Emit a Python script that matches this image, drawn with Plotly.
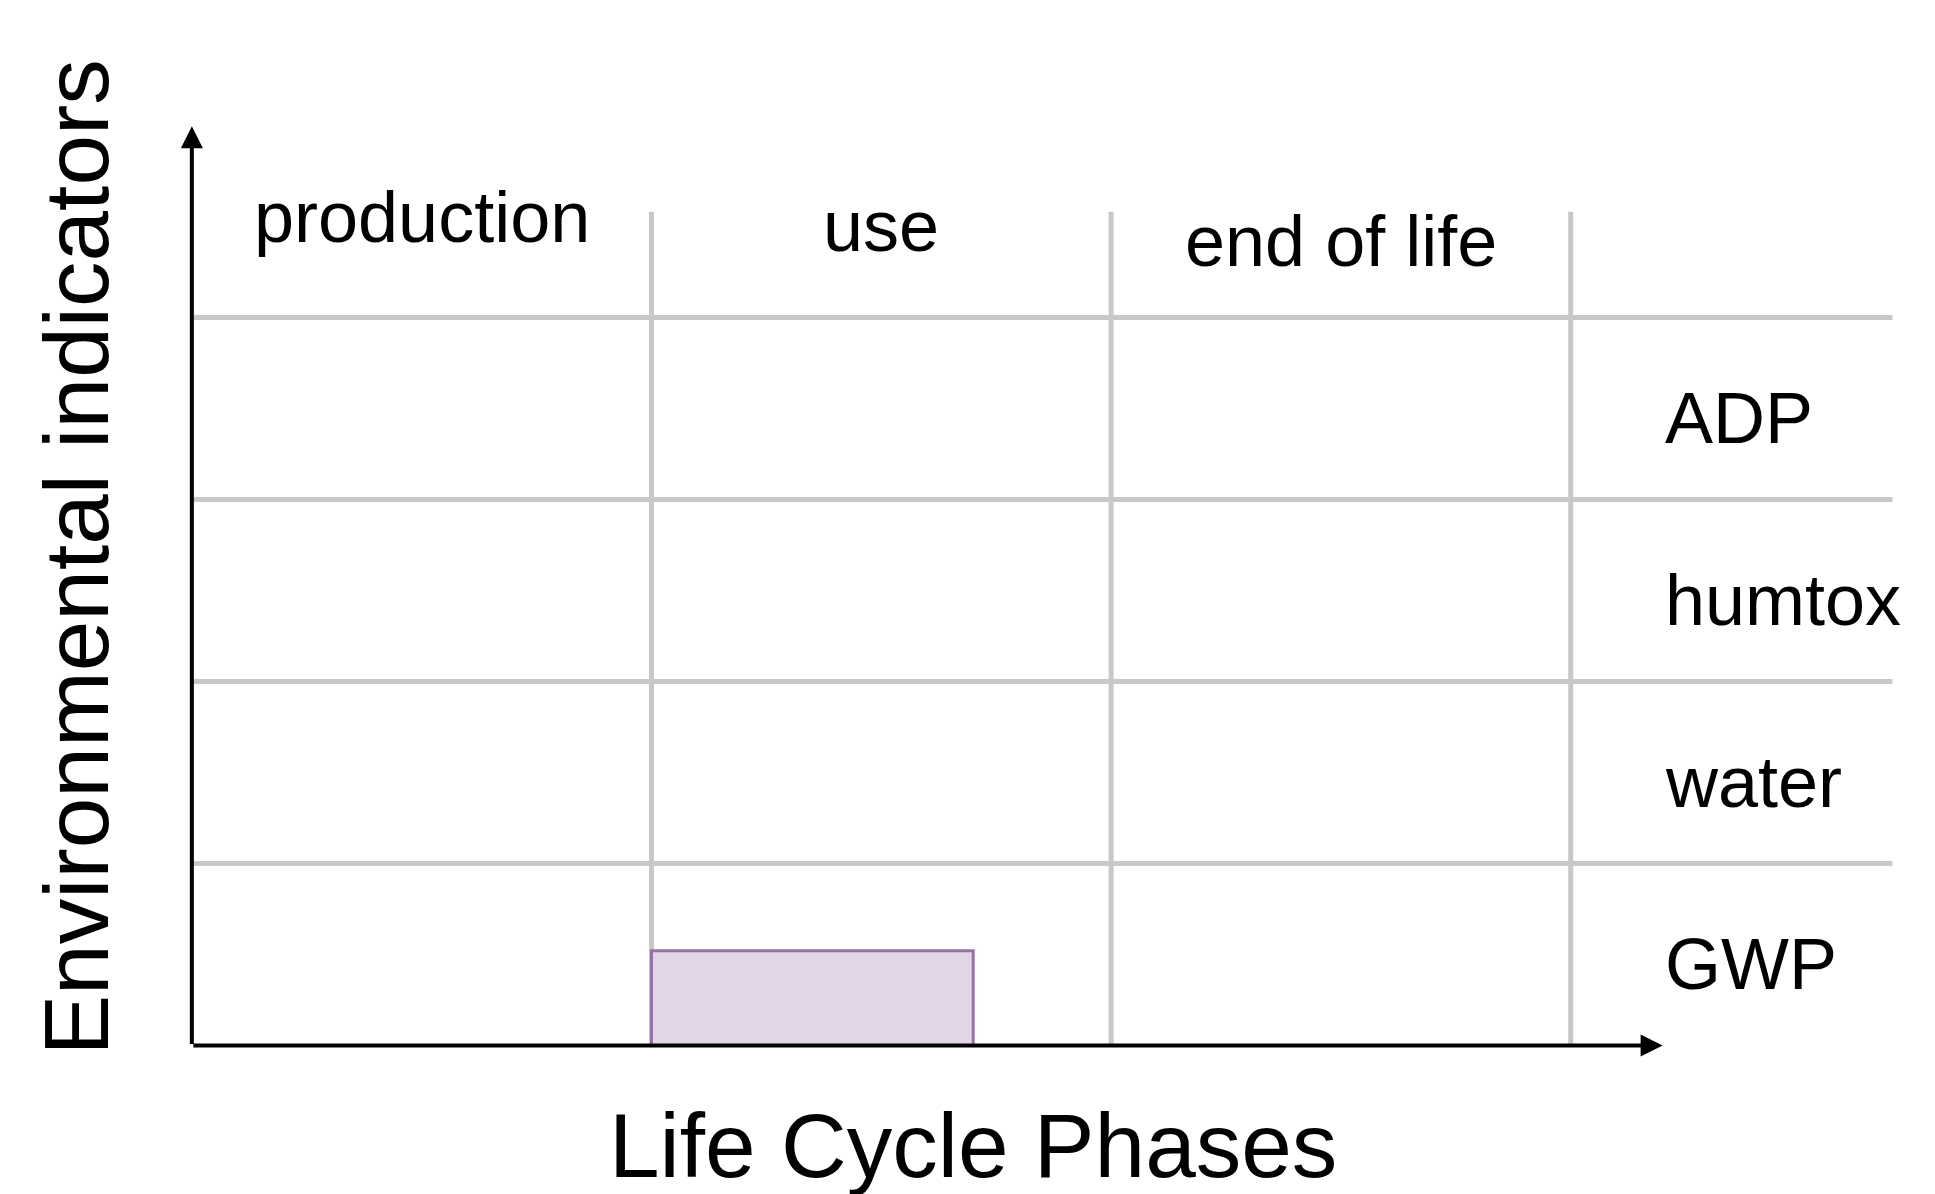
import plotly.graph_objects as go

phases = ["production", "use", "end of life"]
indicators = ["GWP", "water", "humtox", "ADP"]
bar_phase = "use"
bar_indicator = "GWP"
bar_length = 0.7   # fraction of phase
bar_height = 0.52  # fraction of row

fig = go.Figure()
grid = dict(color="#c8c8c8", width=5)
n_ph, n_ind = len(phases), len(indicators)
for i in range(1, n_ph + 1):
    fig.add_shape(type="line", x0=i, x1=i, y0=0, y1=n_ind + 0.58, line=grid, layer="below")
for j in range(1, n_ind + 1):
    fig.add_shape(type="line", x0=0, x1=3.7, y0=j, y1=j, line=grid, layer="below")

bx = phases.index(bar_phase)
by = indicators.index(bar_indicator)
fig.add_trace(go.Bar(x=[bx + bar_length / 2], y=[bar_height], base=[by], width=[bar_length],
                     marker=dict(color="#e1d5e7", line=dict(color="#9673a6", width=3)),
                     hoverinfo="skip", showlegend=False))

fig.add_annotation(x=3.2, y=0, ax=0, ay=0, xref="x", yref="y", axref="x", ayref="y",
                   showarrow=True, arrowhead=2, arrowsize=1.1, arrowwidth=4, arrowcolor="black", text="")
fig.add_annotation(x=0, y=5.05, ax=0, ay=0, xref="x", yref="y", axref="x", ayref="y",
                   showarrow=True, arrowhead=2, arrowsize=1.1, arrowwidth=4, arrowcolor="black", text="")

font = "Liberation Sans, Arial, sans-serif"
phase_y = [4.55, 4.5, 4.42]
for i, p in enumerate(phases):
    fig.add_annotation(x=i + 0.5, y=phase_y[i], text=p, showarrow=False,
                       font=dict(family=font, size=72, color="black"))
for j, ind in enumerate(indicators):
    fig.add_annotation(x=3.2, y=j + 0.45, text=ind, showarrow=False, xanchor="left",
                       font=dict(family=font, size=72, color="black"))

fig.add_annotation(x=1.7, y=-0.55, text="Life Cycle Phases", showarrow=False,
                   font=dict(family=font, size=91, color="black"))
fig.add_annotation(x=-0.25, y=2.68, text="Environmental indicators", showarrow=False, textangle=-90,
                   font=dict(family=font, size=91, color="black"))

fig.update_xaxes(range=[-0.40, 3.81], visible=False)
fig.update_yaxes(range=[-0.86, 5.7], visible=False)
fig.update_layout(width=1935, height=1194, margin=dict(l=0, r=0, t=0, b=0),
                  plot_bgcolor="white", paper_bgcolor="white")
fig.write_html("out.html")
